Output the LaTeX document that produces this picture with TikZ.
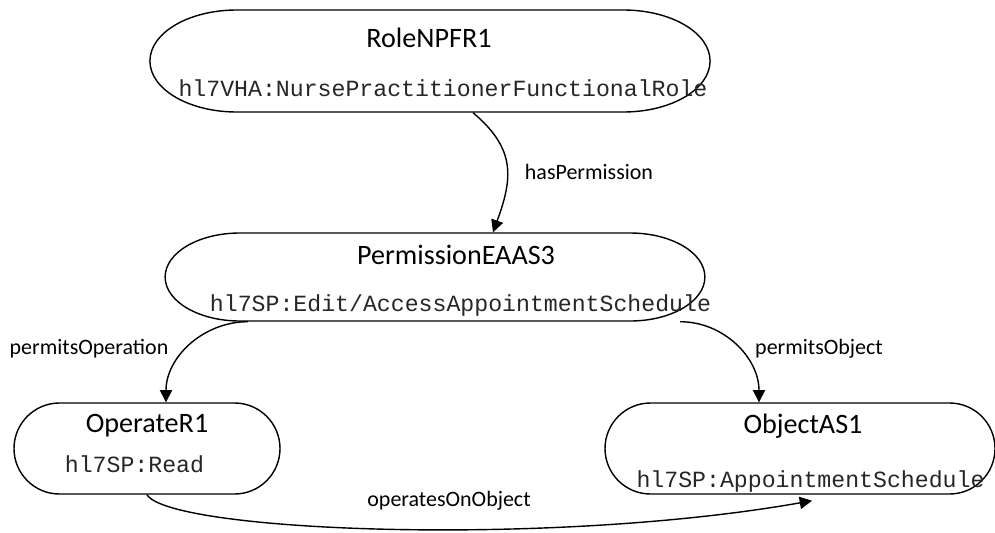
\documentclass[tikz,border=0pt]{standalone}
\usepackage{fontspec}
\setmainfont{Carlito}
\setmonofont{Liberation Mono}
\usetikzlibrary{arrows.meta, positioning, shapes.misc}

\begin{document}
\begin{tikzpicture}[
        >={Triangle[length=7pt, width=7pt]},
        pill/.style={rounded rectangle, draw, line width=0.8pt, inner sep=0pt},
        ttl/.style={font=\fontsize{16}{18}\selectfont, inner sep=0pt},
        iri/.style={font=\ttfamily\fontsize{13.2}{15}\selectfont, text=black!85, inner sep=0pt},
        e/.style={->, line width=0.8pt},
        lbl/.style={font=\fontsize{12.5}{14}\selectfont, inner sep=0pt}
    ]
        \useasboundingbox (0,0) rectangle (19.9,10.64);

        \node[pill, xscale=1.7, minimum width=6.59cm, minimum height=2.04cm] (role) at (8.6,9.42) {};
        \node[pill, xscale=1.7, minimum width=6.35cm, minimum height=1.76cm] (perm) at (8.7,5.1) {};
        \node[pill, minimum width=5.32cm, minimum height=1.82cm] (oper) at (2.94,1.67) {};
        \node[pill, minimum width=7.8cm, minimum height=1.82cm] (obj) at (16.0,1.67) {};

        \node[ttl] (role-t) at (8.58,9.88) {RoleNPFR1};
        \node[iri] (role-c) at (8.86,8.88) {hl7VHA:NursePractitionerFunctionalRole};
        \node[ttl] (perm-t) at (9.12,5.54) {PermissionEAAS3};
        \node[iri] (perm-c) at (9.21,4.54) {hl7SP:Edit/AccessAppointmentSchedule};
        \node[ttl] (oper-t) at (2.94,2.12) {OperateR1};
        \node[iri] (oper-c) at (2.69,1.36) {hl7SP:Read};
        \node[ttl] (obj-t) at (16.06,2.12) {ObjectAS1};
        \node[iri] (obj-c) at (16.21,1.02) {hl7SP:AppointmentSchedule};

        \node[lbl] (l1) at (11.78,7.2) {hasPermission};
        \node[lbl] (l2) at (1.78,3.66) {permitsOperation};
        \node[lbl] (l3) at (16.38,3.66) {permitsObject};
        \node[lbl] (l4) at (8.98,0.62) {operatesOnObject};

        \draw[e] ([xshift=0.86cm]role.south) to[out=-40, in=70, looseness=1.2] ([xshift=1.16cm]perm.north);
        \draw[e] ([xshift=-3.74cm]perm.south) to[out=180, in=90] ([xshift=0.38cm]oper.north);
        \draw[e] ([xshift=4.9cm]perm.south) to[out=0, in=90] ([xshift=-0.82cm]obj.north);
        \draw[e] (oper.south) .. controls (3.4,0.0) and (11,-0.3) .. ([xshift=0.24cm,yshift=-0.12cm]obj.south);
\end{tikzpicture}
\end{document}
